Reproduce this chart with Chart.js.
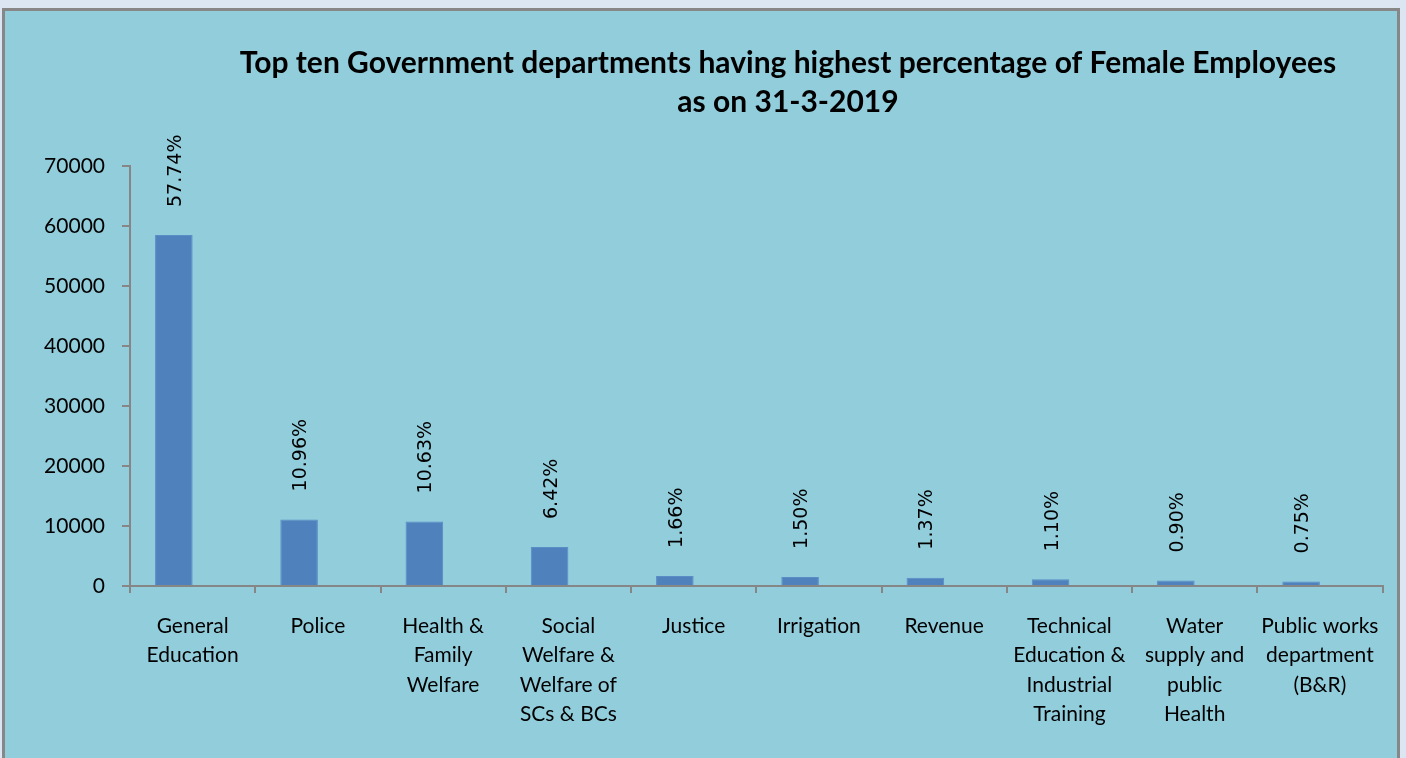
<!DOCTYPE html>
<html>
<head>
<meta charset="utf-8">
<title>Female employees by department</title>
<script src="https://cdn.jsdelivr.net/npm/chart.js@4.4.1/dist/chart.umd.min.js"></script>
<style>
    html, body { margin: 0; padding: 0; background: #dce6f2; overflow: hidden; }
    #box {
        position: absolute;
        left: 2px;
        top: 8px;
        width: 1392px;
        height: 747px;
        border: 3px solid #878787;
        background: #92cddc;
    }
</style>
</head>
<body>
<div id="box"><canvas id="deptChart"></canvas></div>
<script>
// departments, wrapped the way the axis shows them
const departments = [
    ['General', 'Education'],
    ['Police'],
    ['Health &', 'Family', 'Welfare'],
    ['Social', 'Welfare &', 'Welfare of', 'SCs & BCs'],
    ['Justice'],
    ['Irrigation'],
    ['Revenue'],
    ['Technical', 'Education &', 'Industrial', 'Training'],
    ['Water', 'supply and', 'public', 'Health'],
    ['Public works', 'department', '(B&R)']
];
// number of female employees
const femaleEmployees = [58500, 11100, 10770, 6500, 1680, 1520, 1390, 1110, 910, 760];
// share of all female employees, %
const femaleShare = [57.74, 10.96, 10.63, 6.42, 1.66, 1.50, 1.37, 1.10, 0.90, 0.75];
const shareLabels = ['57.74%', '10.96%', '10.63%', '6.42%', '1.66%', '1.50%', '1.37%', '1.10%', '0.90%', '0.75%'];
const titleLines = [
    'Top ten Government departments having highest percentage of Female Employees',
    'as on 31-3-2019'
];
const yMax = 70000;
const yStep = 10000;

const AXIS_GREY = '#868686';

const titlePlugin = {
    id: 'sheetTitle',
    afterDraw(chart) {
        const ctx = chart.ctx;
        ctx.save();
        ctx.font = 'bold 30px Lato';
        ctx.fillStyle = '#000';
        ctx.textAlign = 'center';
        ctx.textBaseline = 'middle';
        ctx.fillText(titleLines[0], 783, 52);
        ctx.fillText(titleLines[1], 783, 91);
        ctx.restore();
    }
};

// rotated % labels above each bar
const shareLabelPlugin = {
    id: 'shareLabels',
    afterDatasetsDraw(chart) {
        const ctx = chart.ctx;
        const meta = chart.getDatasetMeta(0);
        ctx.save();
        ctx.font = '19px "DejaVu Sans"';
        ctx.fillStyle = '#000';
        ctx.textAlign = 'left';
        ctx.textBaseline = 'middle';
        meta.data.forEach((bar, i) => {
            ctx.save();
            ctx.translate(bar.x + 2, bar.y - 28);
            ctx.rotate(-Math.PI / 2);
            ctx.fillText(shareLabels[i], 0, 0);
            ctx.restore();
        });
        ctx.restore();
    }
};

new Chart(document.getElementById('deptChart'), {
    type: 'bar',
    data: {
        labels: departments,
        datasets: [{
            label: 'Female employees',
            data: femaleEmployees,
            backgroundColor: '#4f81bd',
            borderColor: '#5a8cc6',
            borderWidth: 1,
            categoryPercentage: 0.6,
            barPercentage: 1
        }, {
            label: 'Share (%)',
            data: femaleShare,
            backgroundColor: 'rgba(0,0,0,0)',
            categoryPercentage: 0.6,
            barPercentage: 1
        }]
    },
    options: {
        responsive: true,
        maintainAspectRatio: false,
        animation: false,
        layout: { padding: { top: 155, right: 12, bottom: 12, left: 0 } },
        plugins: {
            legend: { display: false },
            title: { display: false },
            tooltip: { enabled: false }
        },
        scales: {
            x: {
                grid: {
                    display: true,
                    drawOnChartArea: false,
                    tickLength: 7,
                    color: AXIS_GREY,
                    lineWidth: 2,
                    offset: true
                },
                border: { color: AXIS_GREY, width: 2 },
                ticks: {
                    color: '#000',
                    padding: 18,
                    maxRotation: 0,
                    autoSkip: false,
                    font: { family: 'Lato', size: 21, lineHeight: '29.5px' }
                },
                afterFit: s => { s.height = 160; }
            },
            y: {
                min: 0,
                max: yMax,
                grid: {
                    display: true,
                    drawOnChartArea: false,
                    tickLength: 8,
                    color: AXIS_GREY,
                    lineWidth: 2
                },
                border: { color: AXIS_GREY, width: 2 },
                ticks: {
                    stepSize: yStep,
                    color: '#000',
                    padding: 17,
                    font: { family: 'Lato', size: 21 },
                    callback: v => String(v)
                },
                afterFit: s => { s.width = 125; }
            }
        }
    },
    plugins: [titlePlugin, shareLabelPlugin]
});
</script>
</body>
</html>
